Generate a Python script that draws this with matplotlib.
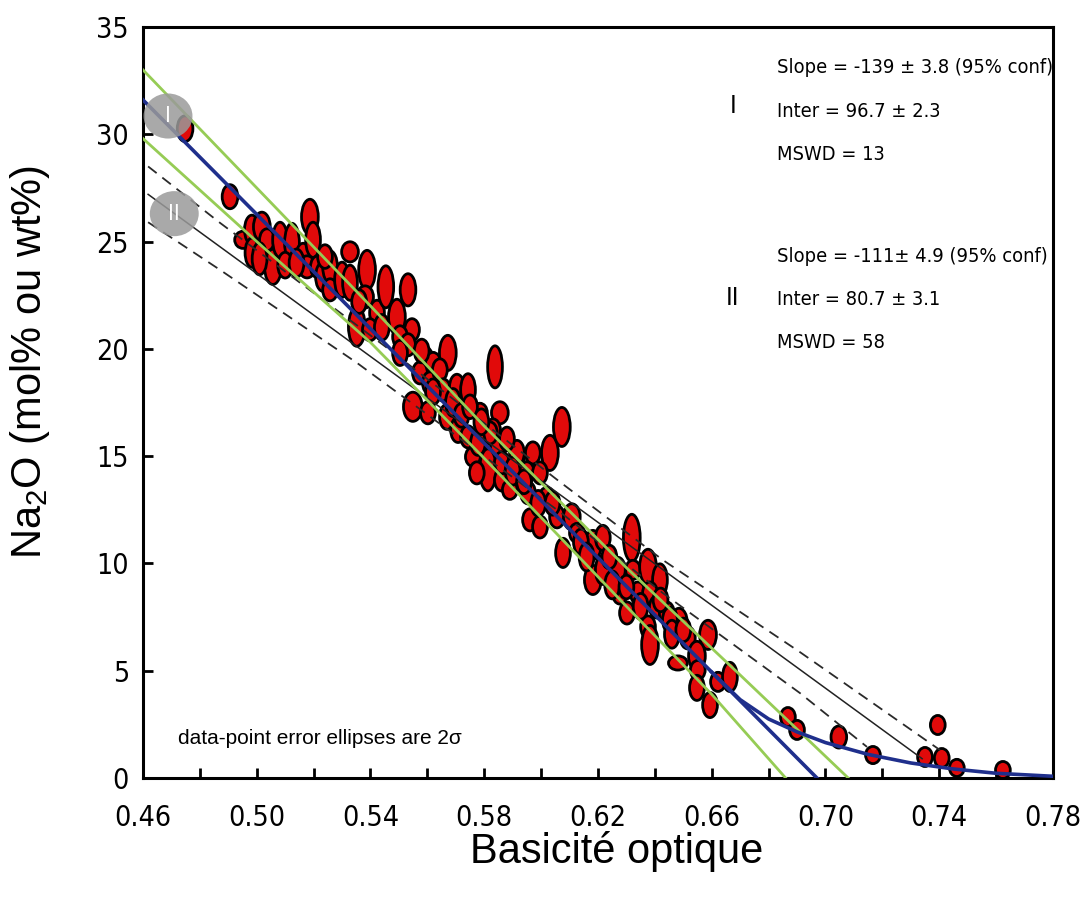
import matplotlib
matplotlib.use('Agg')
import matplotlib.pyplot as plt
import matplotlib.patches as patches
from matplotlib import font_manager
import numpy as np

# error ellipses: centre (basicity, Na2O) and full width / height (2 sigma)
ell_x = [0.4748, 0.4906, 0.4952, 0.4983, 0.4983, 0.5018, 0.5036, 0.5057, 0.5082, 0.5124,
         0.5163, 0.5187, 0.5198, 0.5177, 0.5215, 0.5233, 0.5258, 0.5258, 0.5300, 0.5328,
         0.5328, 0.5388, 0.5381, 0.5423, 0.5352, 0.5398, 0.5454, 0.5532, 0.5493, 0.5546,
         0.5504, 0.5532, 0.5504, 0.5592, 0.5620, 0.5672, 0.5574, 0.5609, 0.5644, 0.5655,
         0.5704, 0.5743, 0.5838, 0.5549, 0.5602, 0.5669, 0.5708, 0.5785, 0.5855, 0.5743,
         0.5785, 0.5831, 0.5848, 0.5760, 0.5971, 0.5915, 0.5820, 0.5778, 0.5813, 0.5774,
         0.5862, 0.5890, 0.5862, 0.5915, 0.6031, 0.6073, 0.5950, 0.5996, 0.5954, 0.6020,
         0.5961, 0.5996, 0.6056, 0.6108, 0.6126, 0.6077, 0.6182, 0.6217, 0.6319, 0.6182,
         0.6217, 0.6270, 0.6277, 0.6302, 0.6323, 0.6340, 0.6376, 0.6418, 0.6383, 0.6407,
         0.6376, 0.6442, 0.6485, 0.6383, 0.6516, 0.6587, 0.6548, 0.6453, 0.6481, 0.6551,
         0.6548, 0.6594, 0.6622, 0.6664, 0.6868, 0.6900, 0.7047, 0.7167, 0.7350, 0.7395,
         0.7409, 0.7462, 0.7624,
         0.5010, 0.5100, 0.5140, 0.5240, 0.5360, 0.5440, 0.5580, 0.5620, 0.5690, 0.5720,
         0.5750, 0.5790, 0.5880, 0.5900, 0.5940, 0.5990, 0.6040, 0.6140, 0.6160, 0.6240,
         0.6250, 0.6300, 0.6350, 0.6420, 0.6460, 0.6500]
ell_y = [30.26, 27.09, 25.08, 25.55, 24.48, 25.69, 25.08, 23.82, 25.08, 24.94,
         24.24, 26.15, 25.08, 23.82, 23.82, 23.36, 23.82, 22.75, 23.22, 24.52,
         23.08, 23.68, 22.42, 21.68, 21.03, 20.89, 22.89, 22.75, 21.49, 20.89,
         20.56, 20.19, 19.81, 19.63, 19.39, 19.81, 18.88, 18.41, 19.02, 18.09,
         18.23, 18.09, 19.16, 17.30, 17.02, 16.83, 16.22, 17.02, 17.02, 15.90,
         15.43, 16.22, 15.43, 14.97, 15.15, 14.83, 16.08, 15.62, 14.36, 14.22,
         13.89, 13.43, 14.69, 15.15, 15.15, 16.36, 14.22, 14.22, 13.29, 13.10,
         12.03, 11.70, 12.17, 12.17, 11.42, 10.49, 10.86, 11.19, 11.19, 9.23,
         9.70, 9.70, 8.62, 7.69, 9.70, 8.62, 9.84, 9.23, 8.62, 7.97,
         7.04, 7.69, 7.23, 6.20, 6.53, 6.67, 5.69, 7.37, 5.36, 5.03,
         4.20, 3.40, 4.48, 4.71, 2.84, 2.24, 1.91, 1.07, 0.98, 2.47,
         0.93, 0.47, 0.37,
         24.2, 23.9, 24.0, 24.3, 22.2, 21.0, 19.9, 18.0, 17.5, 16.9,
         17.3, 16.6, 15.8, 14.3, 13.8, 12.8, 12.8, 11.0, 10.3, 10.3,
         9.0, 8.9, 8.0, 8.3, 6.7, 6.9]
ell_w = [0.0055, 0.0055, 0.0059, 0.0052, 0.0048, 0.0059, 0.0052, 0.0059, 0.0052, 0.0052,
         0.0052, 0.0059, 0.0052, 0.0059, 0.0052, 0.0052, 0.0052, 0.0052, 0.0052, 0.0059,
         0.0052, 0.0059, 0.0059, 0.0052, 0.0059, 0.0052, 0.0055, 0.0055, 0.0059, 0.0052,
         0.0052, 0.0052, 0.0052, 0.0052, 0.0052, 0.0059, 0.0052, 0.0052, 0.0052, 0.0052,
         0.0052, 0.0052, 0.0052, 0.0066, 0.0052, 0.0052, 0.0052, 0.0052, 0.0059, 0.0052,
         0.0052, 0.0052, 0.0052, 0.0052, 0.0052, 0.0052, 0.0052, 0.0052, 0.0059, 0.0052,
         0.0052, 0.0052, 0.0052, 0.0052, 0.0059, 0.0059, 0.0052, 0.0052, 0.0052, 0.0052,
         0.0052, 0.0052, 0.0052, 0.0059, 0.0052, 0.0052, 0.0059, 0.0052, 0.0059, 0.0059,
         0.0052, 0.0052, 0.0052, 0.0052, 0.0052, 0.0052, 0.0059, 0.0052, 0.0052, 0.0052,
         0.0052, 0.0052, 0.0059, 0.0059, 0.0052, 0.0059, 0.0059, 0.0052, 0.0066, 0.0052,
         0.0052, 0.0052, 0.0052, 0.0052, 0.0052, 0.0052, 0.0055, 0.0052, 0.0052, 0.0052,
         0.0052, 0.0052, 0.0052,
         0.0052, 0.0052, 0.0052, 0.0052, 0.0052, 0.0052, 0.0052, 0.0052, 0.0052, 0.0052,
         0.0052, 0.0052, 0.0052, 0.0052, 0.0052, 0.0052, 0.0052, 0.0052, 0.0052, 0.0052,
         0.0052, 0.0052, 0.0052, 0.0052, 0.0052, 0.0052]
ell_h = [1.20, 1.12, 0.80, 1.36, 1.36, 1.36, 1.03, 1.64, 1.64, 1.82,
         1.36, 1.64, 1.64, 1.03, 1.03, 1.36, 1.50, 1.03, 1.64, 0.94,
         1.64, 1.82, 1.03, 1.17, 1.82, 1.03, 1.96, 1.50, 1.64, 1.03,
         1.03, 1.03, 1.17, 0.89, 0.89, 1.64, 1.03, 1.03, 1.03, 1.03,
         1.17, 1.50, 1.96, 1.36, 1.03, 1.17, 1.17, 0.89, 1.03, 1.03,
         1.03, 1.03, 0.89, 0.89, 1.03, 0.89, 1.03, 1.17, 1.96, 1.03,
         1.03, 0.89, 1.03, 1.17, 1.64, 1.82, 1.03, 1.03, 1.03, 0.89,
         1.03, 1.03, 1.03, 1.22, 0.89, 1.36, 1.36, 1.17, 2.20, 1.36,
         1.36, 1.17, 1.03, 1.03, 0.89, 1.03, 1.64, 1.50, 1.03, 1.03,
         1.03, 1.03, 1.36, 1.82, 1.03, 1.36, 1.36, 1.17, 0.66, 0.89,
         1.17, 1.17, 0.89, 1.36, 0.89, 0.89, 1.03, 0.80, 0.89, 0.89,
         0.89, 0.80, 0.80,
         1.50, 1.20, 1.30, 1.10, 1.10, 1.20, 1.10, 1.20, 1.30, 1.10,
         1.10, 1.20, 1.10, 1.30, 1.10, 1.20, 1.10, 1.20, 1.30, 1.10,
         1.30, 1.10, 1.20, 1.10, 1.30, 1.10]

# regression I (blue) with its confidence envelope (green)
fit1_x = [0.46, 0.697]
fit1_y = [31.6, 0.0]
curve_x = [0.660, 0.670, 0.680, 0.690, 0.700, 0.715, 0.730, 0.745, 0.760, 0.780]
curve_y = [4.93, 3.65, 2.75, 2.15, 1.65, 1.10, 0.70, 0.42, 0.22, 0.08]
env1_up_x = [0.46, 0.50, 0.54, 0.58, 0.63, 0.67, 0.708]
env1_up_y = [33.0, 27.5, 22.0, 16.4, 9.8, 4.8, 0.0]
env1_lo_x = [0.46, 0.50, 0.54, 0.58, 0.63, 0.66, 0.686]
env1_lo_y = [29.8, 25.0, 20.3, 14.9, 8.0, 3.9, 0.0]

# regression II (black) with its confidence envelope (dashed)
fit2_x = [0.4618, 0.734]
fit2_y = [27.2, 0.9]
env2_up_x = [0.4618, 0.4871, 0.5468, 0.6066, 0.6428, 0.691, 0.7403]
env2_up_y = [28.5, 25.87, 19.95, 13.8, 10.16, 5.87, 1.3]
env2_lo_x = [0.4618, 0.4871, 0.5352, 0.6066, 0.6428, 0.691, 0.7146]
env2_lo_y = [25.9, 23.68, 19.35, 12.4, 8.62, 3.96, 1.45]

stats1 = ['Slope = -139 \u00b1 3.8 (95% conf)', 'Inter = 96.7 \u00b1 2.3', 'MSWD = 13']
stats2 = ['Slope = -111\u00b1 4.9 (95% conf)', 'Inter = 80.7 \u00b1 3.1', 'MSWD = 58']

xticks = np.round(np.arange(0.46, 0.781, 0.02), 2)
yticks = [0, 5, 10, 15, 20, 25, 30, 35]

# look for a narrow / condensed face, otherwise fall back to Liberation Sans
narrow, nstretch, found = 'Liberation Sans', 'normal', False
for f in font_manager.fontManager.ttflist:
    if 'narrow' in f.name.lower() or 'condensed' in f.name.lower():
        narrow, nstretch, found = f.name, f.stretch, True
        break
    if f.stretch in ('condensed', 'semi-condensed', 500) and f.style == 'normal':
        narrow, nstretch, found = f.name, f.stretch, True
        break
nfam = [narrow, 'DejaVu Sans']
stat_size = 14.4 if found else 14.4
tick_size = 20.5 if found else 19.0

plt.rcParams['font.family'] = ['Liberation Sans', 'DejaVu Sans']
plt.rcParams['mathtext.default'] = 'regular'

fig = plt.figure(figsize=(10.89, 8.99), dpi=100)
ax = fig.add_axes([0.1313, 0.1346, 0.8356, 0.8354])
ax.set_xlim(0.46, 0.78)
ax.set_ylim(0, 35)

for x, y, w, h in zip(ell_x, ell_y, ell_w, ell_h):
    e = patches.Ellipse((x, y), w, h, facecolor='#e10a0a', edgecolor='black', lw=2.0, zorder=2)
    ax.add_patch(e)

ax.plot(env2_up_x, env2_up_y, color='#2a2a2a', lw=1.3, dashes=(6, 4), zorder=3)
ax.plot(env2_lo_x, env2_lo_y, color='#2a2a2a', lw=1.3, dashes=(6, 4), zorder=3)
ax.plot(fit2_x, fit2_y, color='#222222', lw=1.1, zorder=3)
ax.plot(env1_up_x, env1_up_y, color='#96cc55', lw=2.0, zorder=3)
ax.plot(env1_lo_x, env1_lo_y, color='#96cc55', lw=2.0, zorder=3)
ax.plot(fit1_x, fit1_y, color='#1f2f8c', lw=2.6, zorder=4)
ax.plot(curve_x, curve_y, color='#1f2f8c', lw=2.6, zorder=4)

# grey markers for the two regressions
for (cx, cy), lab in [((0.4688, 30.85), 'I'), ((0.4710, 26.3), 'II')]:
    c = patches.Ellipse((cx, cy), 0.0172, 2.1, facecolor='#9a9a9a', edgecolor='none',
                        alpha=0.85, zorder=5)
    ax.add_patch(c)
    ax.text(cx, cy, lab, color='white', fontsize=16, ha='center', va='center',
            family=nfam, fontstretch=nstretch, zorder=6)

for i, s in enumerate(stats1):
    ax.text(0.6829, 33.1 - i * 2.03, s, fontsize=stat_size, family=nfam,
            fontstretch=nstretch, ha='left', va='center')
for i, s in enumerate(stats2):
    ax.text(0.6829, 24.29 - i * 2.0, s, fontsize=stat_size, family=nfam,
            fontstretch=nstretch, ha='left', va='center')
ax.text(0.6674, 31.3, 'I', fontsize=18, family=nfam, fontstretch=nstretch, ha='center', va='center')
ax.text(0.6674, 22.35, 'II', fontsize=18, family=nfam, fontstretch=nstretch, ha='center', va='center')

ax.text(0.4723, 1.86, 'data-point error ellipses are 2\u03c3', fontsize=15, ha='left', va='center')

ax.set_xticks(xticks)
ax.set_xticklabels(['%.2f' % t if i % 2 == 0 else '' for i, t in enumerate(xticks)])
ax.set_yticks(yticks)
ax.set_yticklabels([str(t) for t in yticks])
ax.tick_params(direction='in', length=7, width=2, labelsize=tick_size, color='black')
ax.tick_params(axis='x', pad=19)
ax.tick_params(axis='y', pad=10)
for lab in ax.get_xticklabels() + ax.get_yticklabels():
    lab.set_family(nfam)
    lab.set_fontstretch(nstretch)
for sp in ax.spines.values():
    sp.set_linewidth(2.2)

ax.set_xlabel('Basicit\u00e9 optique', fontsize=30, va='center')
ax.xaxis.set_label_coords(0.521, -0.0985)
ax.set_ylabel('Na$_2$O (mol% ou wt%)', fontsize=30, va='center')
ax.yaxis.set_label_coords(-0.124, 0.554)

fig.savefig('out.png', dpi=100, facecolor='white')
